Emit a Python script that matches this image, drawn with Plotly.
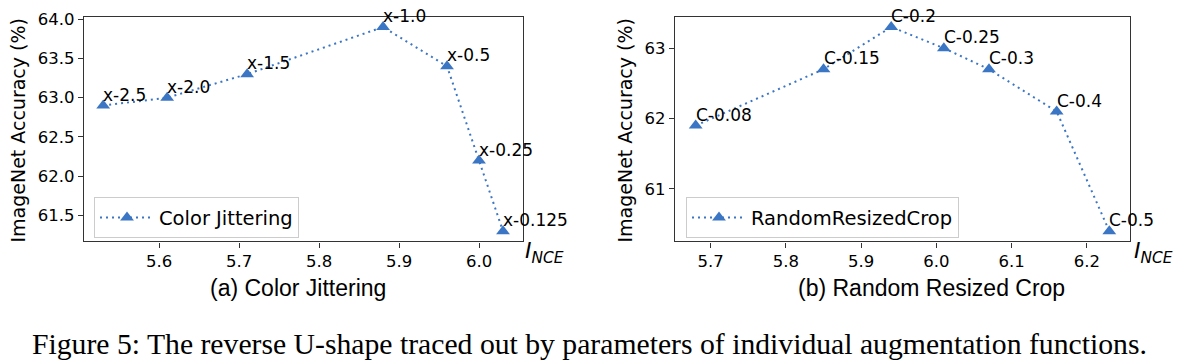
import plotly.graph_objects as go

# Data: (a) Color Jittering
cj_x = [5.53, 5.61, 5.71, 5.88, 5.96, 6.00, 6.03]
cj_y = [62.9, 63.0, 63.3, 63.9, 63.4, 62.2, 61.3]
cj_labels = ["x-2.5", "x-2.0", "x-1.5", "x-1.0", "x-0.5", "x-0.25", "x-0.125"]
cj_xticks = [5.6, 5.7, 5.8, 5.9, 6.0]
cj_yticks = [61.5, 62.0, 62.5, 63.0, 63.5, 64.0]

# Data: (b) Random Resized Crop
rc_x = [5.68, 5.85, 5.94, 6.01, 6.07, 6.16, 6.23]
rc_y = [61.9, 62.7, 63.3, 63.0, 62.7, 62.1, 60.4]
rc_labels = ["C-0.08", "C-0.15", "C-0.2", "C-0.25", "C-0.3", "C-0.4", "C-0.5"]
rc_xticks = [5.7, 5.8, 5.9, 6.0, 6.1, 6.2]
rc_yticks = [61, 62, 63]

W, H = 1177, 364
COLOR = "#3b76c4"
FONT = "DejaVu Sans"

fig = go.Figure()

fig.add_trace(go.Scatter(
    x=cj_x, y=cj_y, mode="lines+markers", name="Color Jittering",
    line=dict(color=COLOR, width=2, dash="2px,4px"),
    marker=dict(symbol="triangle-up", size=12, color=COLOR),
    xaxis="x", yaxis="y", legend="legend"))
fig.add_trace(go.Scatter(
    x=rc_x, y=rc_y, mode="lines+markers", name="RandomResizedCrop",
    line=dict(color=COLOR, width=2, dash="2px,4px"),
    marker=dict(symbol="triangle-up", size=12, color=COLOR),
    xaxis="x2", yaxis="y2", legend="legend2"))


def px_x(p):
    return p / W


def px_y(p):
    return 1 - p / H


axis_common = dict(
    showgrid=False, zeroline=False, showline=True, mirror=True,
    linecolor="#333333", linewidth=1.3, ticks="outside", ticklen=5,
    tickcolor="#333333", tickfont=dict(family=FONT, size=16.5, color="black"),
)

legend_common = dict(
    xanchor="left", yanchor="top",
    bgcolor="rgba(255,255,255,0.8)", bordercolor="#cccccc", borderwidth=1,
    font=dict(family=FONT, size=19.5, color="black"), itemwidth=54,
    tracegroupgap=0,
)

fig.update_layout(
    width=W, height=H,
    margin=dict(l=0, r=0, t=0, b=0),
    paper_bgcolor="white", plot_bgcolor="white",
    showlegend=True,
    xaxis=dict(domain=[px_x(84), px_x(523)], range=[5.506, 6.055],
               tickvals=cj_xticks, ticktext=[f"{v:.1f}" for v in cj_xticks],
               anchor="y", **axis_common),
    yaxis=dict(domain=[px_y(239), px_y(10)], range=[61.17, 64.03],
               tickvals=cj_yticks, ticktext=[f"{v:.1f}" for v in cj_yticks],
               anchor="x", **axis_common),
    xaxis2=dict(domain=[px_x(675), px_x(1130)], range=[5.6525, 6.2575],
                tickvals=rc_xticks, ticktext=[f"{v:.1f}" for v in rc_xticks],
                anchor="y2", **axis_common),
    yaxis2=dict(domain=[px_y(239), px_y(10)], range=[60.255, 63.445],
                tickvals=rc_yticks, ticktext=[str(v) for v in rc_yticks],
                anchor="x2", **axis_common),
    legend=dict(x=px_x(94), y=px_y(194), **legend_common),
    legend2=dict(x=px_x(686), y=px_y(194), **legend_common),
)

annotations = []
for xv, yv, t in zip(cj_x, cj_y, cj_labels):
    annotations.append(dict(x=xv, y=yv, xref="x", yref="y", text=t, showarrow=False,
                            xanchor="left", yanchor="bottom", xshift=-2, yshift=-1,
                            font=dict(family=FONT, size=17, color="black")))
for xv, yv, t in zip(rc_x, rc_y, rc_labels):
    annotations.append(dict(x=xv, y=yv, xref="x2", yref="y2", text=t, showarrow=False,
                            xanchor="left", yanchor="bottom", xshift=-2, yshift=-1,
                            font=dict(family=FONT, size=17, color="black")))

# Axis titles and subcaptions
for xc, t in [(18, "ImageNet Accuracy (%)"), (625, "ImageNet Accuracy (%)")]:
    annotations.append(dict(x=px_x(xc), y=px_y(126), xref="paper", yref="paper",
                            text=t, textangle=-90, showarrow=False,
                            xanchor="center", yanchor="middle",
                            font=dict(family=FONT, size=19, color="black")))
for xc, t in [(298, "(a) Color Jittering"), (931, "(b) Random Resized Crop")]:
    annotations.append(dict(x=px_x(xc), y=px_y(287), xref="paper", yref="paper",
                            text=t, showarrow=False, xanchor="center", yanchor="middle",
                            font=dict(family="Liberation Sans", size=23, color="black")))
for xl in [523, 1132]:
    annotations.append(dict(x=px_x(xl), y=px_y(250), xref="paper", yref="paper",
                            text="<i>I<sub>NCE</sub></i>", showarrow=False,
                            xanchor="left", yanchor="middle",
                            font=dict(family=FONT, size=22, color="black")))

annotations.append(dict(x=px_x(589), y=px_y(344), xref="paper", yref="paper",
                        text="Figure 5: The reverse U-shape traced out by parameters of individual augmentation functions.",
                        showarrow=False, xanchor="center", yanchor="middle",
                        font=dict(family="Liberation Serif", size=29.7, color="black")))

fig.update_layout(annotations=annotations)

fig.write_html("out.html", config={"displayModeBar": False},
               post_script="document.body.style.margin='0';")
